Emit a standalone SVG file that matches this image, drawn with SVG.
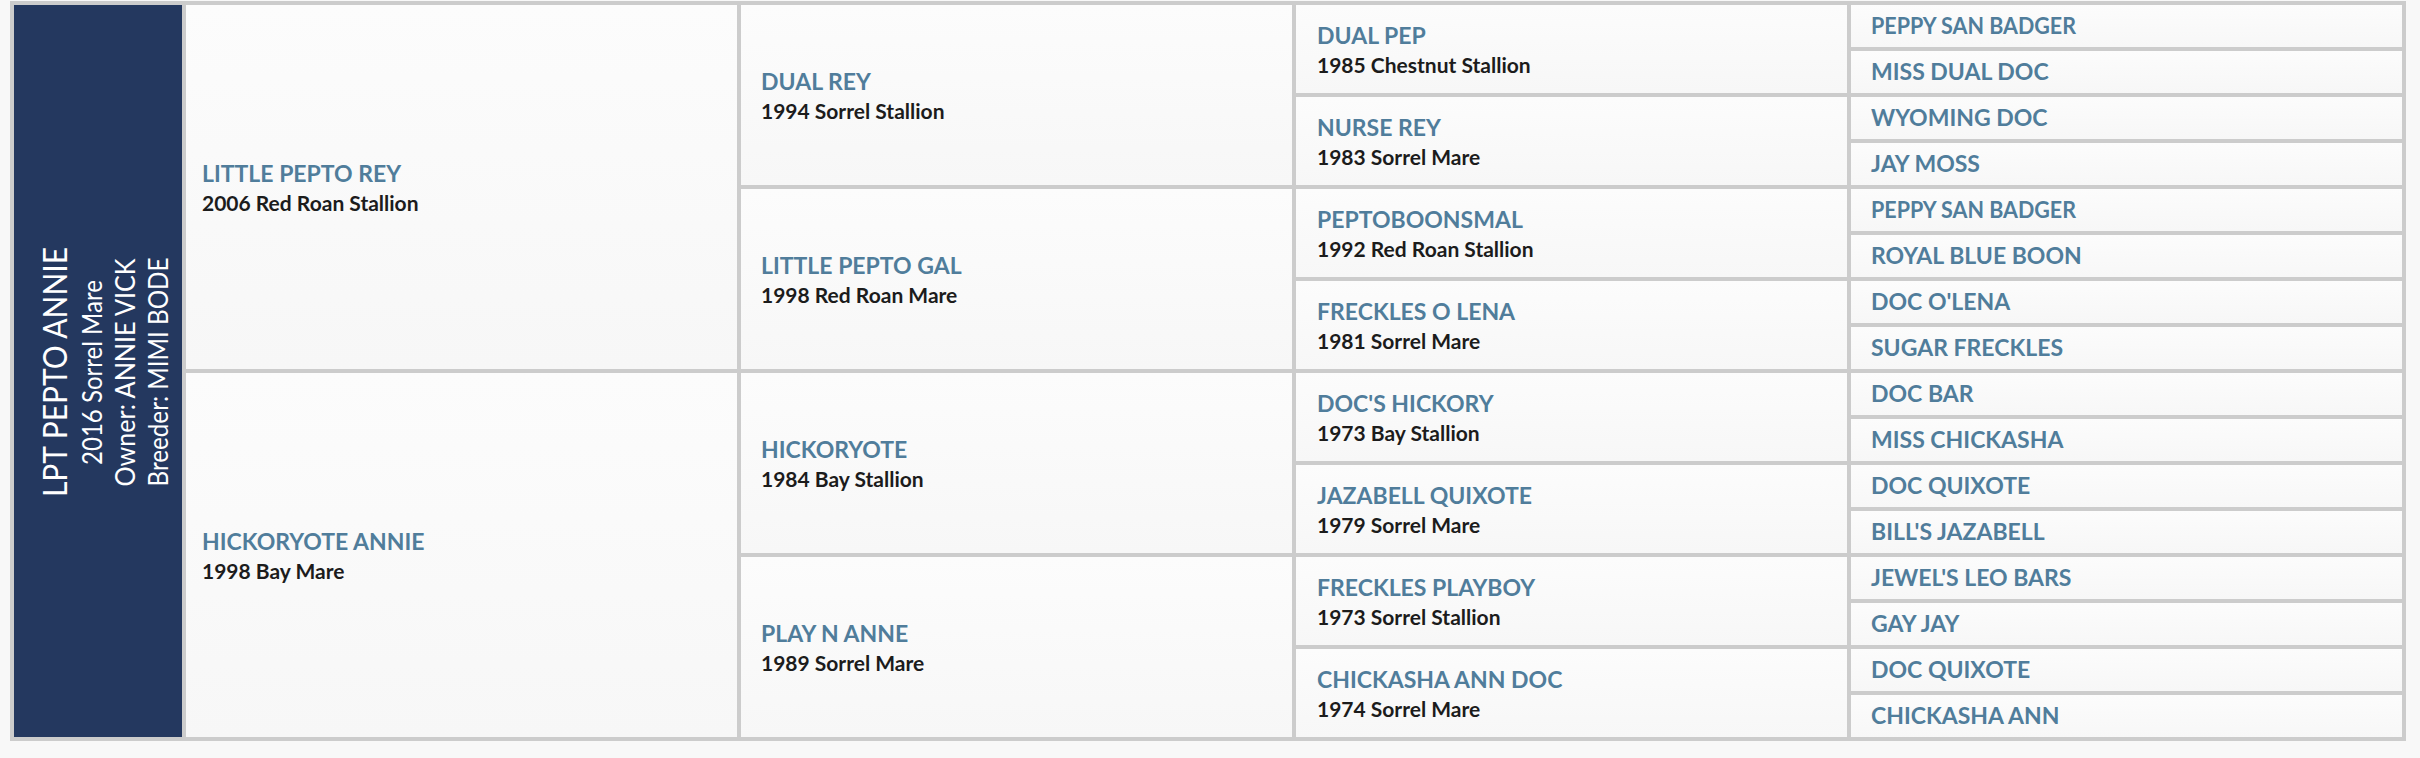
<svg xmlns="http://www.w3.org/2000/svg" width="2420" height="758" viewBox="0 0 2420 758">
<defs>
<linearGradient id="cg" x1="0" y1="0" x2="0" y2="1">
<stop offset="0" stop-color="#fcfcfc"/>
<stop offset="1" stop-color="#f7f7f7"/>
</linearGradient>
<style>
.cell{fill:url(#cg)}
.nm{font-family:Lato,"Liberation Sans",sans-serif;font-weight:700;font-size:23px;fill:#507d9b}
.sb{font-family:Lato,"Liberation Sans",sans-serif;font-weight:700;font-size:21px;fill:#1c1c1c}
.hd{font-family:Lato,"Liberation Sans",sans-serif;font-weight:400;fill:#ffffff;text-anchor:middle}
</style>
</defs>
<rect x="0" y="0" width="2420" height="758" fill="#f8f8f8"/>
<g id="grid">
<rect x="10" y="1" width="2396" height="740" fill="#cccccc"/>
</g>
<g id="connectors"/>
<g id="subject">
<rect x="14" y="5" width="168" height="732" fill="#24385f"/>
<text class="hd" font-size="32" transform="translate(66.5,372) rotate(-90)" textLength="250" lengthAdjust="spacingAndGlyphs">LPT PEPTO ANNIE</text>
<text class="hd" font-size="27" transform="translate(101.5,372.5) rotate(-90)" textLength="185" lengthAdjust="spacingAndGlyphs">2016 Sorrel Mare</text>
<text class="hd" font-size="27" transform="translate(135,372.5) rotate(-90)" textLength="228" lengthAdjust="spacingAndGlyphs">Owner: ANNIE VICK</text>
<text class="hd" font-size="27" transform="translate(168.3,372) rotate(-90)" textLength="229" lengthAdjust="spacingAndGlyphs">Breeder: MIMI BODE</text>
</g>
<g id="sire"><rect class="cell" x="186" y="5" width="551" height="364"/><text class="nm" x="202" y="182">LITTLE PEPTO REY</text><text class="sb" x="202" y="210.5">2006 Red Roan Stallion</text></g>
<g id="dam"><rect class="cell" x="186" y="373" width="551" height="364"/><text class="nm" x="202" y="550">HICKORYOTE ANNIE</text><text class="sb" x="202" y="578.5">1998 Bay Mare</text></g>
<g id="g2-0"><rect class="cell" x="741" y="5" width="551" height="180"/><text class="nm" x="761" y="90">DUAL REY</text><text class="sb" x="761" y="118.5">1994 Sorrel Stallion</text></g>
<g id="g2-1"><rect class="cell" x="741" y="189" width="551" height="180"/><text class="nm" x="761" y="274">LITTLE PEPTO GAL</text><text class="sb" x="761" y="302.5">1998 Red Roan Mare</text></g>
<g id="g2-2"><rect class="cell" x="741" y="373" width="551" height="180"/><text class="nm" x="761" y="458">HICKORYOTE</text><text class="sb" x="761" y="486.5">1984 Bay Stallion</text></g>
<g id="g2-3"><rect class="cell" x="741" y="557" width="551" height="180"/><text class="nm" x="761" y="642">PLAY N ANNE</text><text class="sb" x="761" y="670.5">1989 Sorrel Mare</text></g>
<g id="g3-0"><rect class="cell" x="1296" y="5" width="551" height="88"/><text class="nm" x="1317" y="44">DUAL PEP</text><text class="sb" x="1317" y="72.5">1985 Chestnut Stallion</text></g>
<g id="g3-1"><rect class="cell" x="1296" y="97" width="551" height="88"/><text class="nm" x="1317" y="136">NURSE REY</text><text class="sb" x="1317" y="164.5">1983 Sorrel Mare</text></g>
<g id="g3-2"><rect class="cell" x="1296" y="189" width="551" height="88"/><text class="nm" x="1317" y="228">PEPTOBOONSMAL</text><text class="sb" x="1317" y="256.5">1992 Red Roan Stallion</text></g>
<g id="g3-3"><rect class="cell" x="1296" y="281" width="551" height="88"/><text class="nm" x="1317" y="320">FRECKLES O LENA</text><text class="sb" x="1317" y="348.5">1981 Sorrel Mare</text></g>
<g id="g3-4"><rect class="cell" x="1296" y="373" width="551" height="88"/><text class="nm" x="1317" y="412">DOC'S HICKORY</text><text class="sb" x="1317" y="440.5">1973 Bay Stallion</text></g>
<g id="g3-5"><rect class="cell" x="1296" y="465" width="551" height="88"/><text class="nm" x="1317" y="504">JAZABELL QUIXOTE</text><text class="sb" x="1317" y="532.5">1979 Sorrel Mare</text></g>
<g id="g3-6"><rect class="cell" x="1296" y="557" width="551" height="88"/><text class="nm" x="1317" y="596">FRECKLES PLAYBOY</text><text class="sb" x="1317" y="624.5">1973 Sorrel Stallion</text></g>
<g id="g3-7"><rect class="cell" x="1296" y="649" width="551" height="88"/><text class="nm" x="1317" y="688">CHICKASHA ANN DOC</text><text class="sb" x="1317" y="716.5">1974 Sorrel Mare</text></g>
<g id="g4-0"><rect class="cell" x="1851" y="5" width="551" height="42"/><text class="nm" x="1871" y="34" textLength="205" lengthAdjust="spacingAndGlyphs">PEPPY SAN BADGER</text></g>
<g id="g4-1"><rect class="cell" x="1851" y="51" width="551" height="42"/><text class="nm" x="1871" y="80">MISS DUAL DOC</text></g>
<g id="g4-2"><rect class="cell" x="1851" y="97" width="551" height="42"/><text class="nm" x="1871" y="126">WYOMING DOC</text></g>
<g id="g4-3"><rect class="cell" x="1851" y="143" width="551" height="42"/><text class="nm" x="1871" y="172">JAY MOSS</text></g>
<g id="g4-4"><rect class="cell" x="1851" y="189" width="551" height="42"/><text class="nm" x="1871" y="218" textLength="205" lengthAdjust="spacingAndGlyphs">PEPPY SAN BADGER</text></g>
<g id="g4-5"><rect class="cell" x="1851" y="235" width="551" height="42"/><text class="nm" x="1871" y="264">ROYAL BLUE BOON</text></g>
<g id="g4-6"><rect class="cell" x="1851" y="281" width="551" height="42"/><text class="nm" x="1871" y="310">DOC O'LENA</text></g>
<g id="g4-7"><rect class="cell" x="1851" y="327" width="551" height="42"/><text class="nm" x="1871" y="356">SUGAR FRECKLES</text></g>
<g id="g4-8"><rect class="cell" x="1851" y="373" width="551" height="42"/><text class="nm" x="1871" y="402">DOC BAR</text></g>
<g id="g4-9"><rect class="cell" x="1851" y="419" width="551" height="42"/><text class="nm" x="1871" y="448">MISS CHICKASHA</text></g>
<g id="g4-10"><rect class="cell" x="1851" y="465" width="551" height="42"/><text class="nm" x="1871" y="494">DOC QUIXOTE</text></g>
<g id="g4-11"><rect class="cell" x="1851" y="511" width="551" height="42"/><text class="nm" x="1871" y="540">BILL'S JAZABELL</text></g>
<g id="g4-12"><rect class="cell" x="1851" y="557" width="551" height="42"/><text class="nm" x="1871" y="586">JEWEL'S LEO BARS</text></g>
<g id="g4-13"><rect class="cell" x="1851" y="603" width="551" height="42"/><text class="nm" x="1871" y="632">GAY JAY</text></g>
<g id="g4-14"><rect class="cell" x="1851" y="649" width="551" height="42"/><text class="nm" x="1871" y="678">DOC QUIXOTE</text></g>
<g id="g4-15"><rect class="cell" x="1851" y="695" width="551" height="42"/><text class="nm" x="1871" y="724">CHICKASHA ANN</text></g>
</svg>
